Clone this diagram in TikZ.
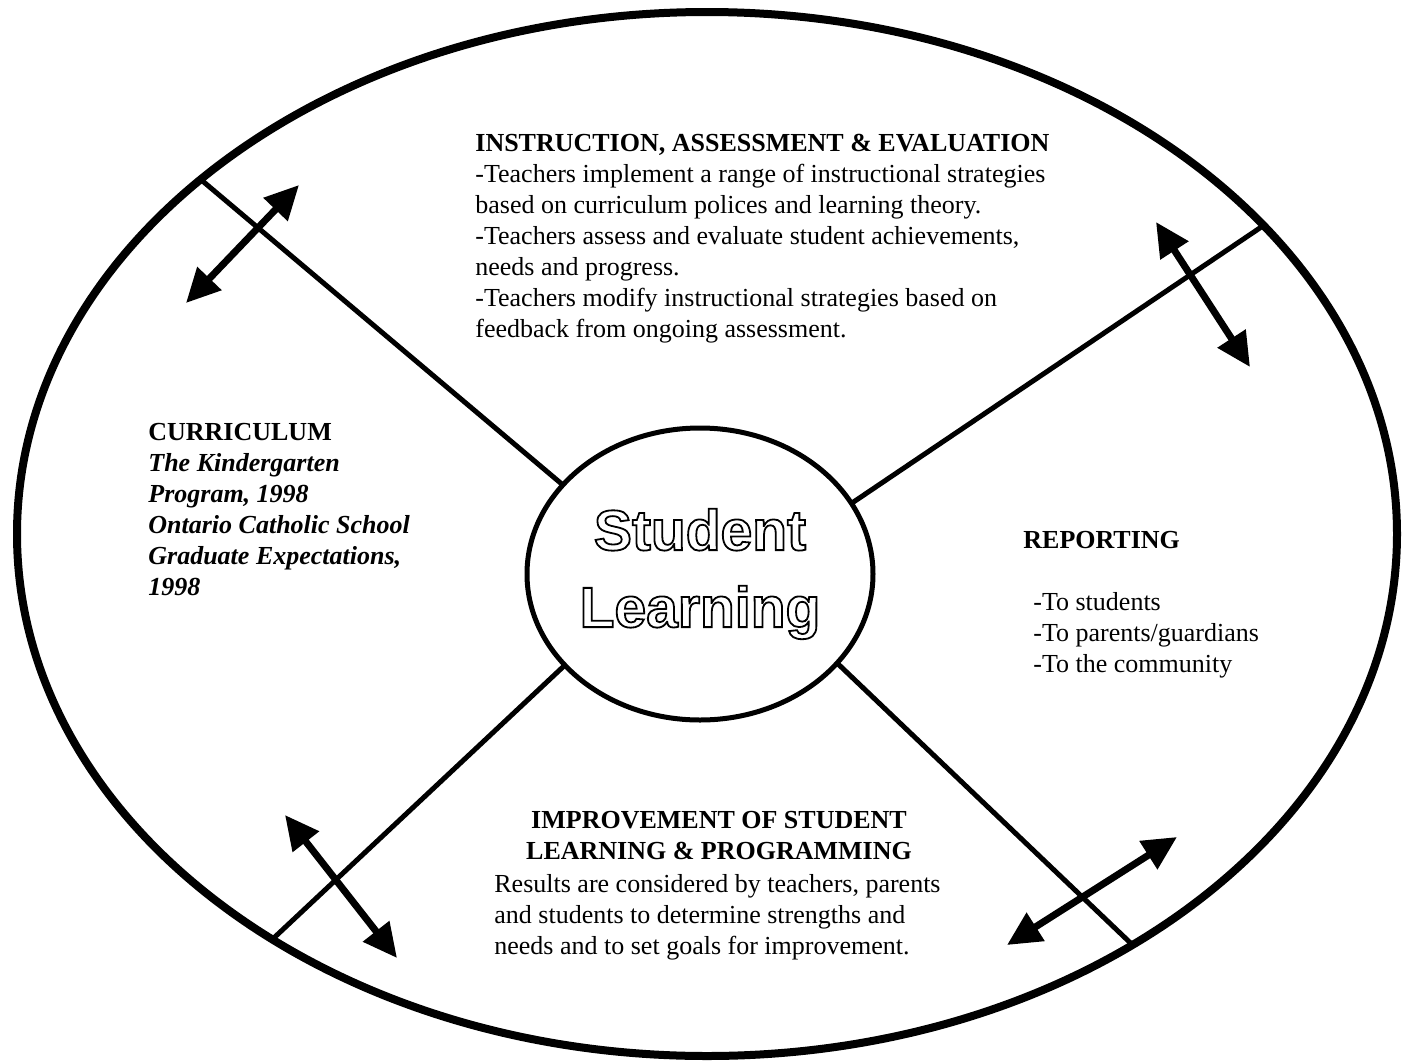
\documentclass[tikz,border=0pt]{standalone}
\usepackage{fontspec}
\setmainfont{Liberation Serif}
\newfontfamily\roundfont{Liberation Sans}
\newcommand\hollow[1]{\special{pdf:literal direct 1 Tr 0.9 w}#1\special{pdf:literal direct 0 Tr}}
\usetikzlibrary{arrows.meta,shapes.geometric,positioning}

\begin{document}
\begin{tikzpicture}[x=0.5pt,y=-0.5pt,
  ring/.style={draw,ellipse,outer sep=0pt,inner sep=0pt},
  spoke/.style={line width=2.5pt},
  twoway/.style={line width=3.5pt,{Triangle[length=17pt,width=16pt]}-{Triangle[length=17pt,width=16pt]}},
  blurb/.style={inner sep=0pt,align=left,font=\fontsize{13}{15.5}\selectfont}]
\useasboundingbox (0,0) rectangle (1410,1061);

\node[ring,line width=4pt,minimum width=690pt,minimum height=522pt] (field) at (707,534) {};
\node[ring,line width=2.5pt,minimum width=173pt,minimum height=146pt,
  font=\roundfont\bfseries\fontsize{28.5}{38.5}\selectfont,align=center] (core) at (700,574)
  {\hollow{Student}\\\hollow{Learning}};

% spokes
\draw[spoke] (core.147) -- (field.145);
\draw[spoke] (core.25) -- (field.29);
\draw[spoke] (core.214) -- (field.223);
\draw[spoke] (core.327) -- (field.316);

% double arrows
\coordinate (ulA) at (186,303); \coordinate (ulB) at (299,185);
\coordinate (urA) at (1156,222); \coordinate (urB) at (1250,367);
\coordinate (llA) at (285,815); \coordinate (llB) at (397,958);
\coordinate (lrA) at (1007,945); \coordinate (lrB) at (1177,837);
\draw[twoway] (ulA) -- (ulB);
\draw[twoway] (urA) -- (urB);
\draw[twoway] (llA) -- (llB);
\draw[twoway] (lrA) -- (lrB);

\node[blurb,anchor=north west] (instr) at (475,134)
  {\textbf{INSTRUCTION, ASSESSMENT \& EVALUATION}\\
   -Teachers implement a range of instructional strategies\\
   based on curriculum polices and learning theory.\\
   -Teachers assess and evaluate student achievements,\\
   needs and progress.\\
   -Teachers modify instructional strategies based on\\
   feedback from ongoing assessment.};

\node[blurb,anchor=north west] (curric) at (148,423)
  {\textbf{CURRICULUM}\\
   \textbf{\textit{The Kindergarten}}\\
   \textbf{\textit{Program, 1998}}\\
   \textbf{\textit{Ontario Catholic School}}\\
   \textbf{\textit{Graduate Expectations,}}\\
   \textbf{\textit{1998}}};

\node[blurb,anchor=north west] (report) at (1023,531) {\textbf{REPORTING}};
\node[blurb,anchor=north west] (reportlist) at (1033,592)
  {-To students\\-To parents/guardians\\-To the community};

\node[blurb,align=center,anchor=north] (improve) at (719,811)
  {\textbf{IMPROVEMENT OF STUDENT}\\\textbf{LEARNING \& PROGRAMMING}};
\node[blurb,anchor=north west] (improvetext) at (494,874)
  {Results are considered by teachers, parents\\
   and students to determine strengths and\\
   needs and to set goals for improvement.};
\end{tikzpicture}
\end{document}
